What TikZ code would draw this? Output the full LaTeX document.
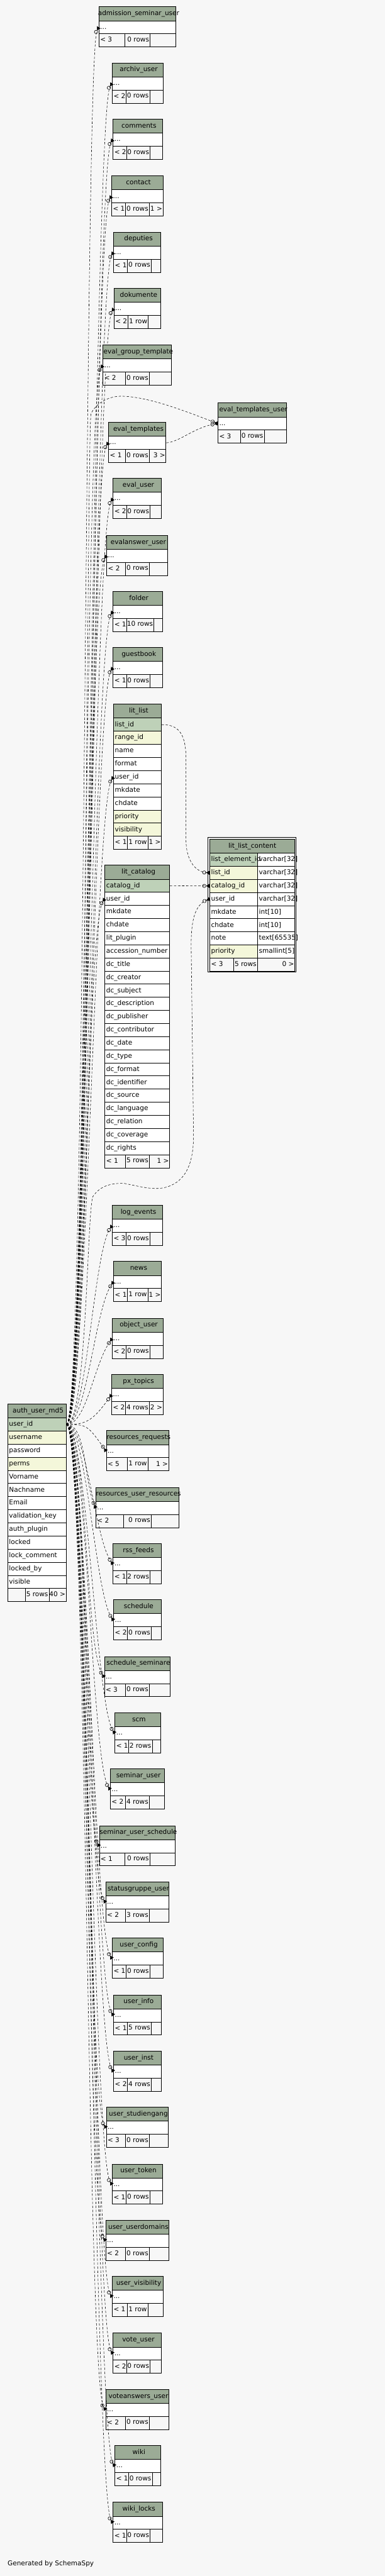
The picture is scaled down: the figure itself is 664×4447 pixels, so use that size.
\documentclass[tikz,border=0pt]{standalone}
\usepackage{fontspec}
\setmainfont{DejaVu Sans}
\usetikzlibrary{positioning,arrows.meta,calc}

\definecolor{bgc}{HTML}{F7F7F7}
\definecolor{hdrc}{HTML}{9BAB96}
\definecolor{pkc}{HTML}{BED1B8}
\definecolor{idxc}{HTML}{F4F7DA}
\newcommand{\tabfont}{\fontsize{11.4}{13}\selectfont}

% footer row: name, left, right, top, split1, split2, texts
\newcommand{\tfoot}[9]{%
  \pgfmathsetmacro\fw{#3-#2}%
  \node[cell,minimum width=\fw] (#1) at (#2,#4) {};
  \draw[line width=0.9pt] (#5,#4) -- +(0,22.65) (#6,#4) -- +(0,22.65);
  \node[txt] at ([xshift=2.5]#1.west) {#7};
  \node[txt,anchor=east] at ([xshift=-1.5]#6,#4+11.3) {#8};
  \node[txt,anchor=east] at ([xshift=-1.5]#1.east) {#9};
}

\begin{document}
\begin{tikzpicture}[x=1pt,y=-1pt,
  cell/.style={draw,line width=0.9pt,anchor=north west,inner sep=0pt,minimum height=22.65pt},
  hdr/.style={cell,fill=hdrc,minimum height=24pt},
  txt/.style={font=\tabfont,inner sep=0pt,anchor=west,text height=8.5pt,text depth=2.5pt},
  fk/.style={line width=0.6pt,dash pattern=on 4pt off 3pt,
    -{Circle[open,length=6.5pt,width=6.5pt,line width=0.7pt] Triangle[reversed,length=6pt,width=7pt]}}]
\fill[bgc] (0,0) rectangle (664,4447);

% auth_user_md5
\node[hdr,minimum width=100.7] (au-h) at (13,2423.3) {};
\node[txt,anchor=center] at ([xshift=2]au-h.center) {auth\_user\_md5};
\foreach \f/\fc [count=\i from 0] in {user\_id/pkc,username/idxc,password/white,perms/idxc,
  Vorname/white,Nachname/white,Email/white,validation\_key/white,auth\_plugin/white,
  locked/white,lock\_comment/white,locked\_by/white,visible/white}{
  \node[cell,fill=\fc,minimum width=100.7] (au-\i) at (13,2447.3+\i*22.65) {};
  \node[txt] at ([xshift=2.5]au-\i.west) {\f};
}
\tfoot{au-f}{13}{113.7}{2741.75}{43.7}{84.7}{}{5 rows}{40 >}

% lit_list
\node[hdr,minimum width=82.3] (ll-h) at (195.7,1215.3) {};
\node[txt,anchor=center] at ([xshift=2]ll-h.center) {lit\_list};
\foreach \f/\fc [count=\i from 0] in {list\_id/pkc,range\_id/idxc,name/white,format/white,
  user\_id/white,mkdate/white,chdate/white,priority/idxc,visibility/idxc}{
  \node[cell,fill=\fc,minimum width=82.3] (ll-\i) at (195.7,1239.3+\i*22.65) {};
  \node[txt] at ([xshift=2.5]ll-\i.west) {\f};
}
\tfoot{ll-f}{195.7}{278}{1443.15}{220}{255.3}{< 1}{1 row}{1 >}

% lit_catalog
\node[hdr,minimum width=111.6] (lc-h) at (180.7,1493.3) {};
\node[txt,anchor=center] at ([xshift=2]lc-h.center) {lit\_catalog};
\foreach \f/\fc [count=\i from 0] in {catalog\_id/pkc,user\_id/white,mkdate/white,chdate/white,
  lit\_plugin/white,accession\_number/white,dc\_title/white,dc\_creator/white,dc\_subject/white,
  dc\_description/white,dc\_publisher/white,dc\_contributor/white,dc\_date/white,dc\_type/white,
  dc\_format/white,dc\_identifier/white,dc\_source/white,dc\_language/white,dc\_relation/white,
  dc\_coverage/white,dc\_rights/white}{
  \node[cell,fill=\fc,minimum width=111.6] (lc-\i) at (180.7,1517.3+\i*22.65) {};
  \node[txt] at ([xshift=2.5]lc-\i.west) {\f};
}
\tfoot{lc-f}{180.7}{292.3}{1992.95}{217}{257.7}{< 1}{5 rows}{1 >}

% lit_list_content
\draw[line width=1.2pt] (359.3,1445.3) rectangle (510.7,1678.2);
\node[hdr,minimum width=146.6] (llc-h) at (361.7,1448.3) {};
\node[txt,anchor=center] at (llc-h.center) {lit\_list\_content};
\foreach \f/\typ/\fc [count=\i from 0] in {list\_element\_id/varchar[32]/pkc,list\_id/varchar[32]/idxc,
  catalog\_id/varchar[32]/idxc,user\_id/varchar[32]/white,mkdate/int[10]/white,chdate/int[10]/white,
  note/text[65535]/white,priority/smallint[5]/idxc}{
  \node[cell,fill=\fc,minimum width=82.6] (llc-\i) at (361.7,1472.3+\i*22.65) {};
  \node[cell,fill=white,minimum width=64] (llc-t\i) at (444.3,1472.3+\i*22.65) {};
  \node[txt] at ([xshift=2.5]llc-\i.west) {\f};
  \node[txt] at ([xshift=2.5]llc-t\i.west) {\typ};
}
\tfoot{llc-f}{361.7}{508.3}{1653.5}{403.3}{444.3}{< 3}{5 rows}{0 >}

% collapsed tables, each linked from auth_user_md5.user_id
\foreach \nm/\ttl/\xa/\xb/\yt/\da/\db/\ca/\cb/\cc/\lnk in {
  admsem/admission\_seminar\_user/170.3/303.3/11.3/215.3/259/< 3/0 rows/{}/1,
  archiv/archiv\_user/193.3/280.7/108.3/217.3/258.3/< 2/0 rows/{}/1,
  comments/comments/194.7/280/205.3/218.3/259/< 2/0 rows/{}/1,
  contact/contact/192.3/280.7/303.3/216.7/257.7/< 1/0 rows/1 >/1,
  deputies/deputies/195.7/277.3/400.3/220/261/< 1/0 rows/{}/1,
  dokumente/dokumente/196.3/277.3/497.3/220.7/256/< 2/1 row/{}/1,
  evgroup/eval\_group\_template/177.3/295.3/595.3/217/257.7/< 2/0 rows/{}/1,
  evtpluser/eval\_templates\_user/375.7/493.7/695.3/415/456/< 3/0 rows/{}/0,
  evtpl/eval\_templates/187/286/728.7/216.7/257.7/< 1/0 rows/3 >/1,
  evuser/eval\_user/194.7/278/825.3/218.3/259/< 2/0 rows/{}/1,
  evans/evalanswer\_user/183.7/289/923.7/216.7/257.7/< 2/0 rows/{}/1,
  folder/folder/194.7/279.7/1020.3/218.3/265.7/< 1/10 rows/{}/1,
  guestbook/guestbook/194.7/279.7/1117.3/218.3/259/< 1/0 rows/{}/1,
  logev/log\_events/193.3/279.7/2080.3/217.7/258.7/< 3/0 rows/{}/1,
  news/news/195.7/278/2177.3/220/255.3/< 1/1 row/1 >/1,
  objuser/object\_user/193.3/280.7/2275.3/217.7/258.7/< 2/0 rows/{}/1,
  pxtopics/px\_topics/192.3/280.7/2372.3/216.7/257.7/< 2/4 rows/2 >/1,
  resreq/resources\_requests/183/290.7/2469.3/220/255.3/< 5/1 row/1 >/1,
  resusr/resources\_user\_resources/165/308/2567.3/213.7/261/< 2/0 rows/{}/1,
  rss/rss\_feeds/194.7/278/2664.3/218.3/259/< 1/2 rows/{}/1,
  sched/schedule/195.7/278/2761.3/220/261/< 2/0 rows/{}/1,
  schedsem/schedule\_seminare/179.7/293/2859.3/217/257.7/< 3/0 rows/{}/1,
  scm/scm/198/276.7/2956.3/221.7/262.7/< 1/2 rows/{}/1,
  semuser/seminar\_user/190/283/3053.3/216.7/257.7/< 2/4 rows/{}/1,
  semsched/seminar\_user\_schedule/171/301.7/3151.3/215.3/258.7/< 1/0 rows/{}/1,
  statusgr/statusgruppe\_user/182/290.7/3248.3/217/257.7/< 2/3 rows/{}/1,
  ucfg/user\_config/193.3/280.7/3345.3/217.7/258.7/< 1/0 rows/{}/1,
  uinfo/user\_info/195.7/278/3443.3/220/261/< 1/5 rows/{}/1,
  uinst/user\_inst/195.7/278/3540.3/220/261/< 2/4 rows/{}/1,
  ustud/user\_studiengang/183/289.7/3637.3/217/257.7/< 3/0 rows/{}/1,
  utoken/user\_token/193.3/279.7/3735.3/217.7/258.7/< 1/0 rows/{}/1,
  udom/user\_userdomains/182/290.7/3832.3/217/257.7/< 2/0 rows/{}/1,
  uvis/user\_visibility/193.3/280.7/3929.3/220/255.3/< 1/1 row/{}/1,
  vote/vote\_user/194.7/278/4027.3/218.3/259/< 2/0 rows/{}/1,
  voteans/voteanswers\_user/182/290.7/4124.3/217/257.7/< 2/0 rows/{}/1,
  wiki/wiki/198/276.7/4221.3/221.7/262.7/< 1/0 rows/{}/1,
  wikilocks/wiki\_locks/194.7/279.7/4319.3/218.3/259/< 1/0 rows/{}/1}{
  \pgfmathsetmacro\w{\xb-\xa}
  \node[hdr,minimum width=\w] (\nm-h) at (\xa,\yt) {};
  \node[txt,anchor=center] at ([xshift=2]\nm-h.center) {\ttl};
  \node[cell,fill=white,minimum width=\w] (\nm) at (\xa,\yt+24) {};
  \node[txt] at ([xshift=2.5]\nm.west) {...};
  \tfoot{\nm-f}{\xa}{\xb}{\yt+46.65}{\da}{\db}{\ca}{\cb}{\cc}
  \ifnum\lnk=1
    \pgfmathsetmacro\cy{\yt+35.3<2458 ? \yt+80.3 : \yt-9.7}
    \pgfmathsetmacro\cx{max(\xa-32,145)}
    \draw[fk] (au-0.east) .. controls +(35,0) and (\cx,\cy) .. (\nm.west);
  \fi
}

% links to the expanded tables
\draw[fk] (au-0.east) .. controls +(35,0) and (163.7,1385.7) .. (ll-4.west);
\draw[fk] (au-0.east) .. controls +(35,0) and (148.7,1596.8) .. (lc-1.west);
\draw[fk] (au-0.east) .. controls +(35,0) and (150,760) .. (157,714)
  .. controls (170,690) and (195,683) .. (213,684)
  .. controls (260,686) and (320,710) .. (evtpluser.west);
\draw[fk] (evtpl.east) .. controls (310,763) and (335,738) .. (evtpluser.west);
\draw[fk] (ll-0.east) .. controls (310,1250) and (321,1270) .. (321,1310)
  -- (321,1450) .. controls (321,1482) and (335,1505) .. (llc-1.west);
\draw[fk] (lc-0.east) -- (llc-2.west);
\draw[fk] (au-0.east) .. controls +(35,0) and (150,2100) .. (160,2066)
  .. controls (172,2048) and (190,2042) .. (215,2043)
  .. controls (250,2050) and (275,2058) .. (300,2044)
  .. controls (325,2030) and (334,2000) .. (334,1960)
  -- (330,1640) .. controls (329,1590) and (336,1562) .. (llc-3.west);

\node[txt] (gen) at (13,4426.3) {Generated by SchemaSpy};
\end{tikzpicture}
\end{document}
